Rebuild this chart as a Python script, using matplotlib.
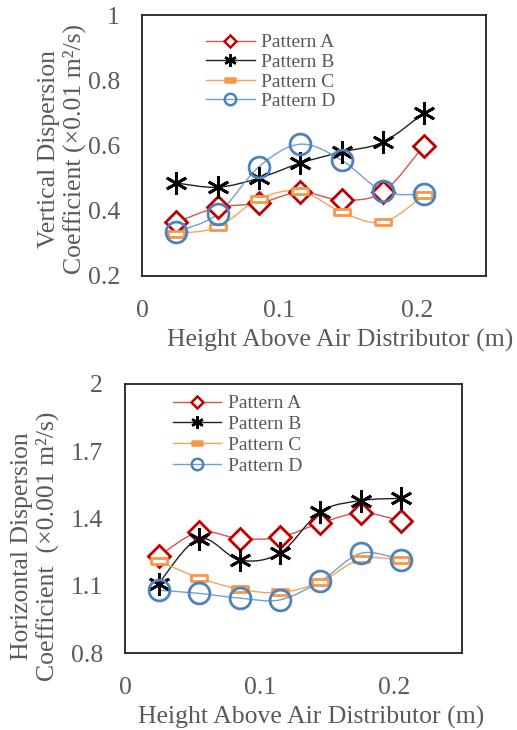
import numpy as np
import matplotlib
matplotlib.use("Agg")
import matplotlib.pyplot as plt
from matplotlib.path import Path
from matplotlib.patches import PathPatch
from matplotlib.lines import Line2D

plt.rcParams['font.family'] = ['Liberation Serif', 'DejaVu Serif']

height = [0.025, 0.055, 0.085, 0.115, 0.145, 0.175, 0.205]
patterns = ["Pattern A", "Pattern B", "Pattern C", "Pattern D"]

# vertical dispersion coefficient (x0.01 m2/s)
vert_a = [0.365, 0.41, 0.423, 0.457, 0.433, 0.457, 0.60]
vert_b = [0.485, 0.472, 0.50, 0.546, 0.58, 0.61, 0.70]
vert_c = [0.33, 0.35, 0.436, 0.46, 0.396, 0.365, 0.448]
vert_d = [0.335, 0.39, 0.535, 0.604, 0.555, 0.46, 0.45]

# horizontal dispersion coefficient (x0.001 m2/s)
hor_a = [1.233, 1.34, 1.31, 1.317, 1.38, 1.425, 1.39]
hor_b = [1.11, 1.31, 1.215, 1.246, 1.43, 1.48, 1.49]
hor_c = [1.21, 1.135, 1.085, 1.07, 1.117, 1.22, 1.215]
hor_d = [1.08, 1.066, 1.045, 1.037, 1.12, 1.245, 1.215]

grey = '#595959'
line_cols = ['#d9534f', '#222222', '#f7a35c', '#6f9fd6']
edge_cols = ['#c00000', '#000000', '#f79646', '#4f81bd']

rect = Path([(-1, -0.35), (1, -0.35), (1, 0.35), (-1, 0.35), (-1, -0.35)],
            [Path.MOVETO, Path.LINETO, Path.LINETO, Path.LINETO, Path.CLOSEPOLY])
markers = ['D', (6, 2, 0), rect, 'o']
msizes = [11.5, 16, 12, 15]
faces = ['white', 'black', 'white', 'none']


def smooth_path(x, y):
    # excel-like smoothed line: cubic bezier through the points
    pts = np.column_stack([x, y])
    n = len(pts)
    verts = [pts[0]]
    codes = [Path.MOVETO]
    for i in range(n - 1):
        p0 = pts[i - 1] if i > 0 else pts[i]
        p1 = pts[i]
        p2 = pts[i + 1]
        p3 = pts[i + 2] if i + 2 < n else pts[i + 1]
        c1 = p1 + (p2 - p0) / 6.0
        c2 = p2 - (p3 - p1) / 6.0
        verts += [c1, c2, p2]
        codes += [Path.CURVE4] * 3
    return Path(verts, codes)


def draw(ax, series, ylim, yticks, leg_anchor, spacing):
    for k, ys in enumerate(series):
        ax.add_patch(PathPatch(smooth_path(height, ys), fill=False,
                               edgecolor=line_cols[k], lw=1.0, zorder=2))
        ax.plot(height, ys, ls='none', marker=markers[k], ms=msizes[k],
                mfc=faces[k], mec=edge_cols[k], mew=2.0,
                zorder=3)
    ax.set_xlim(0, 0.25)
    ax.set_ylim(*ylim)
    ax.set_xticks([0, 0.1, 0.2])
    ax.set_xticklabels(['0', '0.1', '0.2'])
    ax.set_yticks(yticks)
    ax.set_yticklabels([('%g' % v) for v in yticks])
    ax.tick_params(axis='both', length=0, labelsize=18.5, labelcolor=grey)
    ax.tick_params(axis='y', pad=16)
    ax.tick_params(axis='x', pad=17)
    for s in ax.spines.values():
        s.set_color('#222222')
        s.set_linewidth(1.3)

    handles = []
    for k in range(4):
        handles.append(Line2D([], [], color=line_cols[k], lw=1.0,
                              marker=markers[k], ms=msizes[k] * 0.55,
                              mfc=faces[k] if k != 2 else edge_cols[k],
                              mec=edge_cols[k], mew=1.8))
    leg = ax.legend(handles, patterns, loc='upper left', bbox_to_anchor=leg_anchor,
                    frameon=False, fontsize=14, handlelength=2.5,
                    handletextpad=0.35, labelspacing=spacing, borderaxespad=0,
                    borderpad=0)
    for t in leg.get_texts():
        t.set_color(grey)


fig = plt.figure(figsize=(5.17, 7.30), dpi=100)

ax1 = fig.add_axes([142 / 517, 1 - 276 / 730, 344 / 517, 261 / 730])
draw(ax1, [vert_a, vert_b, vert_c, vert_d], (0.2, 1.0), [0.2, 0.4, 0.6, 0.8, 1.0],
     (0.186, 0.928), 0.1)
fig.text(62 / 517, 1 - 149 / 730,
         'Vertical Dispersion\nCoefficient (×0.01 m²/s)', rotation=90,
         ha='center', va='center', multialignment='center', fontsize=18.5,
         color=grey, linespacing=1.1)
fig.text(340 / 517, 1 - 340 / 730, 'Height Above Air Distributor (m)',
         ha='center', va='center', fontsize=18.5, color=grey)

ax2 = fig.add_axes([125 / 517, 1 - 653 / 730, 337 / 517, 269 / 730])
draw(ax2, [hor_a, hor_b, hor_c, hor_d], (0.8, 2.0), [0.8, 1.1, 1.4, 1.7, 2.0],
     (0.142, 0.96), 0.17)
fig.text(35 / 517, 1 - 546 / 730,
         'Horizontal Dispersion\nCoefficient  (×0.001 m²/s)', rotation=90,
         ha='center', va='center', multialignment='center', fontsize=18.5,
         color=grey, linespacing=1.1)
fig.text(311 / 517, 1 - 717 / 730, 'Height Above Air Distributor (m)',
         ha='center', va='center', fontsize=18.5, color=grey)

fig.savefig('out.png', dpi=100)
